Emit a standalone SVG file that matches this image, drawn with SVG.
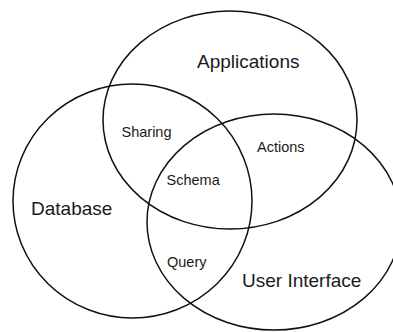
<svg xmlns="http://www.w3.org/2000/svg" width="393" height="332" viewBox="0 0 393 332">
<style>
.c{fill:none;stroke:#111;stroke-width:1.5}
.big{font-family:"Liberation Sans",Arial,sans-serif;font-size:19px;fill:#1a1a1a}
.sm{font-family:"Liberation Sans",Arial,sans-serif;font-size:14.5px;fill:#1a1a1a}
</style>
<rect width="393" height="332" fill="#fff"/>
<g id="applications">
<ellipse class="c" cx="230" cy="120" rx="127" ry="109"/>
<text class="big" x="197" y="68">Applications</text>
</g>
<g id="database">
<ellipse class="c" cx="132.5" cy="201" rx="119.5" ry="117"/>
<text class="big" x="31" y="215">Database</text>
</g>
<g id="user-interface">
<ellipse class="c" cx="274" cy="222" rx="127" ry="108"/>
<text class="big" x="242" y="287">User Interface</text>
</g>
<g id="sharing"><text class="sm" x="121.5" y="137">Sharing</text></g>
<g id="actions"><text class="sm" x="257" y="152">Actions</text></g>
<g id="schema"><text class="sm" x="166.5" y="185">Schema</text></g>
<g id="query"><text class="sm" x="167" y="267">Query</text></g>
<g id="connectors"></g>
</svg>
